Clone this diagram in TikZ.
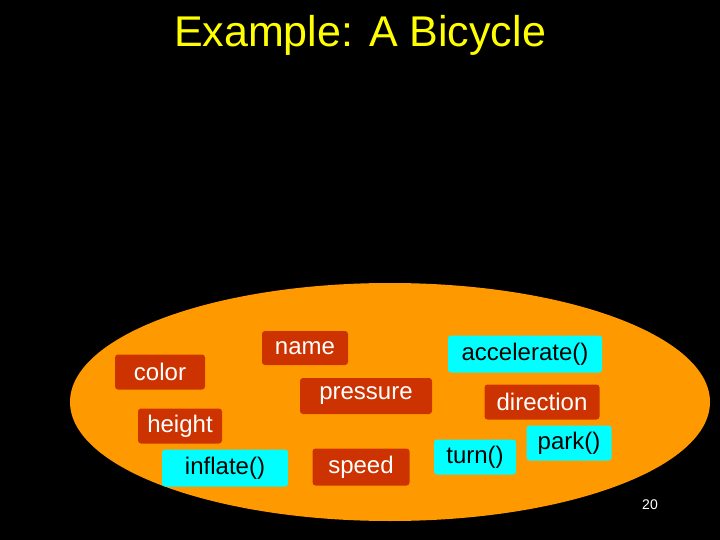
\documentclass[tikz,border=0pt]{standalone}
\usepackage{fontspec}
\setmainfont{Liberation Sans}
\definecolor{boxred}{RGB}{204,51,0}
\definecolor{boxcyan}{RGB}{0,255,255}
\definecolor{ellorange}{RGB}{255,153,0}
\definecolor{titleyellow}{RGB}{255,255,0}
\begin{document}
\begin{tikzpicture}[x=1pt,y=-1pt,
  red/.style={fill=boxred,rounded corners=3pt,text=white,font=\fontsize{24}{26}\selectfont,inner sep=0pt},
  cyan/.style={fill=boxcyan,rounded corners=3pt,text=black,font=\fontsize{24}{26}\selectfont,inner sep=0pt}]
\fill[black] (0,0) rectangle (720,540);
\useasboundingbox (0,0) rectangle (720,540);
\node[text=titleyellow,font=\fontsize{43}{47}\selectfont] (title) at (360,35) {Example: A Bicycle};
\fill[ellorange] (390,402) ellipse [x radius=320, y radius=119];
\node[red,minimum width=90,minimum height=35] (color) at (160,372) {color};
\node[red,minimum width=86,minimum height=34] (name) at (305,348) {name};
\node[red,minimum width=132,minimum height=36] (pressure) at (366,396) {pressure};
\node[red,minimum width=115,minimum height=35] (direction) at (542,402) {direction};
\node[red,minimum width=84,minimum height=35] (height) at (180,426) {height};
\node[red,minimum width=97,minimum height=37] (speed) at (361,467) {speed};
\node[cyan,minimum width=154,minimum height=37] (acc) at (525,354) {accelerate()};
\node[cyan,minimum width=126,minimum height=37] (inflate) at (225,468) {inflate()};
\node[cyan,minimum width=82,minimum height=35] (turn) at (475,457) {turn()};
\node[cyan,minimum width=85,minimum height=35] (park) at (569,443) {park()};
\node[text=white,font=\fontsize{14}{16}\selectfont] (num) at (650,505) {20};
\end{tikzpicture}
\end{document}
